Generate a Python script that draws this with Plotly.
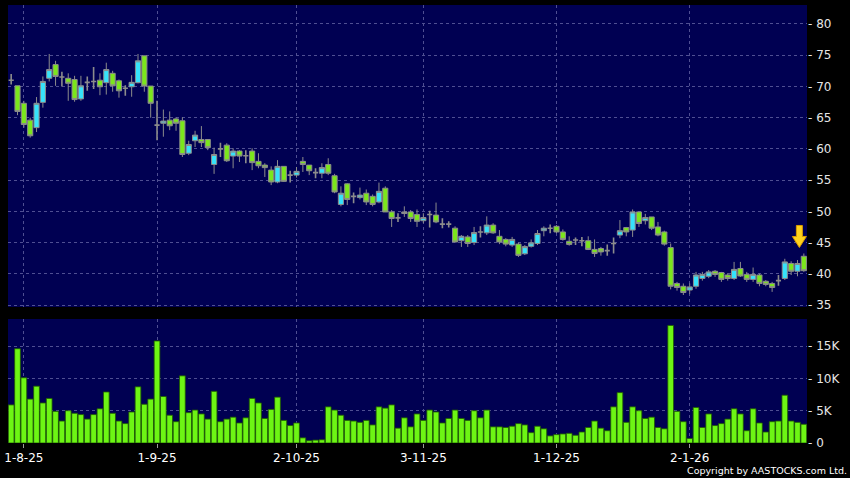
import plotly.graph_objects as go

# ---------------- data ----------------
opens = [71.0, 70.1, 67.3, 64.6, 63.4, 67.45, 71.3, 73.5, 71.5, 71.3,
         71.1, 68.0, 70.65, 70.8, 71.0, 70.6, 72.1, 70.9, 69.7, 69.95,
         70.6, 74.9, 70.06, 63.8, 64.1, 64.6, 64.8, 64.5, 59.3, 61.3,
         61.5, 61.5, 57.5, 60.0, 60.6, 58.85, 59.65, 58.9, 59.65, 58.0,
         57.4, 56.6, 54.7, 57.2, 55.8, 55.8, 58.0, 57.4, 56.2, 56.1,
         57.5, 55.7, 51.1, 54.4, 52.4, 52.2, 52.9, 52.4, 51.5, 53.7,
         49.9, 48.95, 49.65, 49.9, 49.5, 48.5, 49.5, 49.4, 47.95, 47.95,
         47.3, 45.3, 45.9, 45.0, 46.7, 46.55, 47.8, 46.0, 45.5, 44.6,
         44.75, 43.2, 44.4, 44.85, 46.9, 47.3, 47.6, 46.7, 45.2, 45.4,
         45.3, 45.3, 43.9, 44.05, 43.7, 44.85, 46.2, 47.4, 47.0, 49.9,
         48.5, 49.1, 47.5, 46.7, 44.2, 38.45, 38.0, 37.4, 38.0, 39.25,
         39.6, 40.4, 40.2, 39.8, 39.25, 40.85, 39.9, 39.1, 39.8, 38.8,
         38.45, 38.9, 39.25, 41.65, 40.4, 42.8]
highs = [72.0, 70.1, 67.7, 65.0, 68.3, 71.6, 75.2, 74.1, 72.35, 72.1,
         71.7, 71.7, 71.6, 73.1, 72.1, 73.8, 72.5, 71.1, 70.2, 71.8,
         75.2, 74.9, 70.06, 67.7, 66.3, 66.0, 65.05, 65.05, 61.3, 62.9,
         63.65, 61.5, 60.2, 61.0, 60.9, 60.1, 59.8, 59.8, 60.1, 59.3,
         57.7, 57.2, 58.2, 57.2, 56.5, 57.1, 58.7, 57.4, 56.9, 57.7,
         58.5, 56.0, 54.0, 54.5, 53.0, 53.8, 53.5, 52.7, 54.6, 54.0,
         50.2, 49.7, 50.8, 50.2, 50.3, 49.7, 50.1, 51.4, 48.9, 48.4,
         47.6, 46.2, 46.2, 47.5, 47.6, 49.2, 48.1, 47.0, 45.7, 45.9,
         45.0, 44.6, 45.5, 47.0, 47.6, 47.9, 47.8, 47.1, 46.0, 45.8,
         45.9, 46.0, 45.5, 44.3, 44.7, 45.8, 48.6, 47.5, 50.3, 49.9,
         49.6, 49.1, 48.3, 46.9, 44.85, 38.7, 38.45, 38.45, 40.3, 40.3,
         40.6, 40.6, 40.3, 40.1, 41.9, 41.9, 40.3, 41.0, 40.0, 39.0,
         38.7, 39.8, 42.4, 42.0, 42.2, 43.25]
lows = [70.3, 65.4, 63.4, 61.8, 62.7, 66.6, 70.8, 70.1, 70.0, 67.7,
        67.55, 67.7, 69.3, 69.6, 68.6, 68.7, 69.15, 68.2, 68.5, 68.35,
        70.5, 69.15, 65.0, 61.4, 61.95, 63.0, 62.9, 58.7, 59.0, 60.3,
        60.3, 59.8, 56.0, 58.7, 57.9, 56.9, 57.9, 57.7, 56.6, 56.9,
        55.5, 54.2, 54.5, 54.7, 54.6, 55.4, 56.3, 55.8, 55.3, 55.3,
        55.8, 52.9, 50.8, 51.0, 51.3, 51.9, 51.0, 50.8, 51.3, 49.9,
        47.5, 48.3, 49.1, 48.3, 47.5, 48.1, 47.4, 48.1, 47.3, 47.4,
        45.0, 44.3, 44.3, 44.6, 45.8, 46.2, 46.4, 44.75, 44.4, 44.3,
        42.7, 43.0, 44.2, 44.6, 46.0, 46.5, 46.5, 45.3, 44.5, 44.6,
        44.4, 43.8, 42.7, 42.9, 42.9, 43.25, 45.7, 46.0, 45.9, 47.5,
        47.9, 47.0, 46.0, 44.5, 37.5, 37.3, 36.6, 36.8, 37.6, 38.9,
        39.3, 39.5, 38.7, 38.9, 39.0, 39.5, 38.7, 38.7, 38.0, 38.0,
        37.1, 38.1, 39.0, 39.8, 39.6, 40.3]
closes = [71.0, 66.0, 63.9, 62.1, 67.3, 70.8, 72.7, 71.6, 71.5, 70.5,
          67.9, 70.1, 70.65, 70.8, 69.95, 72.7, 70.1, 69.3, 69.7, 70.65,
          74.1, 70.06, 67.3, 63.8, 64.45, 63.7, 64.1, 59.1, 60.7, 62.2,
          61.0, 60.2, 59.1, 60.0, 58.1, 59.65, 58.85, 58.9, 57.8, 57.3,
          57.0, 54.7, 57.2, 54.8, 55.8, 56.4, 57.5, 56.5, 56.2, 57.0,
          56.1, 53.1, 52.9, 51.9, 52.4, 52.6, 51.5, 51.1, 53.2, 49.9,
          48.85, 48.95, 49.9, 48.85, 48.4, 49.0, 49.5, 48.3, 47.95, 47.95,
          45.1, 46.0, 44.85, 46.6, 46.7, 47.8, 46.55, 45.1, 44.75, 45.5,
          42.95, 44.35, 44.95, 46.45, 47.3, 47.3, 46.7, 45.5, 44.7, 45.4,
          45.3, 43.9, 43.25, 43.5, 43.7, 44.85, 46.9, 46.7, 49.9, 48.05,
          49.0, 47.3, 46.2, 44.75, 38.0, 37.8, 37.0, 37.9, 39.8, 39.9,
          40.3, 39.9, 39.1, 39.25, 40.7, 39.65, 39.1, 39.9, 38.45, 38.3,
          37.8, 38.9, 41.9, 40.4, 41.65, 40.5]
volume_k = [5.9, 14.6, 10.1, 6.8, 8.8, 6.2, 6.9, 4.9, 3.4, 5.0,
            4.6, 4.4, 3.7, 4.4, 5.3, 7.9, 4.6, 3.4, 3.0, 4.8,
            8.7, 6.0, 6.8, 15.8, 7.2, 4.3, 3.3, 10.4, 4.7, 5.1,
            4.5, 3.7, 8.0, 3.3, 3.7, 4.0, 3.1, 3.9, 6.9, 6.2,
            3.8, 5.2, 7.1, 3.5, 2.7, 3.1, 0.8, 0.35, 0.45, 0.5,
            5.6, 5.1, 4.3, 3.5, 3.4, 3.2, 3.5, 2.8, 5.6, 5.4,
            5.9, 2.3, 3.9, 2.5, 4.5, 3.5, 5.1, 4.8, 3.1, 3.8,
            5.1, 3.8, 3.5, 5.0, 3.9, 5.1, 2.5, 2.5, 2.4, 2.6,
            3.0, 2.8, 1.6, 2.6, 2.2, 1.1, 1.3, 1.4, 1.5, 1.2,
            1.7, 2.4, 3.4, 2.3, 1.9, 5.6, 7.8, 3.2, 5.6, 5.0,
            3.8, 4.0, 2.4, 2.2, 18.2, 4.9, 3.3, 0.7, 5.5, 2.4,
            4.5, 2.7, 3.0, 3.7, 5.3, 4.5, 1.9, 5.3, 3.1, 1.7,
            3.3, 3.4, 7.4, 3.4, 3.2, 2.9]
tick_index = [2, 23, 45, 65, 86, 107]
tick_labels = ["1-8-25", "1-9-25", "2-10-25", "3-11-25", "1-12-25", "2-1-26"]
price_ticks = [35, 40, 45, 50, 55, 60, 65, 70, 75, 80]
vol_ticks = [0, 5, 10, 15]
vol_tick_labels = ["0", "5K", "10K", "15K"]

# ---------------- styling ----------------
NAVY = "#000052"
GRID = "#4f4f92"
DASH = "3px,3px"
CYAN = "#36e2fb"
GREEN = "#7be61c"
VOLGREEN = "#6df514"
EDGE = "#8c8c8c"
TXT = "#e6e6e6"
FONT = "DejaVu Sans"

idx = list(range(len(opens)))
groups = {"up": [], "down": [], "doji": []}
for i in idx:
    if closes[i] > opens[i]:
        groups["up"].append(i)
    elif closes[i] < opens[i]:
        groups["down"].append(i)
    else:
        groups["doji"].append(i)

fig = go.Figure()
style = {"up": (CYAN, 1), "down": (GREEN, 1), "doji": (EDGE, 1.6)}
for name, members in groups.items():
    fill, lw = style[name]
    fig.add_trace(go.Candlestick(
        x=members,
        open=[opens[i] for i in members],
        high=[highs[i] for i in members],
        low=[lows[i] for i in members],
        close=[closes[i] for i in members],
        increasing=dict(fillcolor=fill, line=dict(color=EDGE, width=lw)),
        decreasing=dict(fillcolor=fill, line=dict(color=EDGE, width=lw)),
        whiskerwidth=0,
        showlegend=False, hoverinfo="skip",
        xaxis="x", yaxis="y",
    ))

fig.add_trace(go.Bar(
    x=idx, y=volume_k,
    marker=dict(color=VOLGREEN, line=dict(color="#1f5a00", width=0.8)),
    showlegend=False, hoverinfo="skip",
    xaxis="x2", yaxis="y2",
))

# yellow marker arrow above the last candle
last = idx[-1]
fig.add_shape(
    type="path", xref="x", yref="y",
    xsizemode="pixel", ysizemode="pixel",
    xanchor=last - 0.7, yanchor=highs[-1],
    path="M -3,28 L 3,28 L 3,17 L 7,17 L 0,6 L -7,17 L -3,17 Z",
    fillcolor="#ffd21c", line=dict(color="#d99a00", width=1),
)

fig.add_annotation(
    text="Copyright by AASTOCKS.com Ltd.",
    xref="paper", yref="paper", x=1.0525, y=-0.062,
    xanchor="right", yanchor="middle", showarrow=False,
    font=dict(family=FONT, size=9.5, color="#ffffff"),
)

xrange = [-0.5, 125.5]
common_x = dict(range=xrange, tickvals=tick_index, showgrid=True,
                gridcolor=GRID, griddash=DASH, gridwidth=1,
                zeroline=False, showline=False, fixedrange=True)
fig.update_layout(
    width=850, height=478,
    margin=dict(l=4, r=43, t=5, b=35),
    paper_bgcolor="#000000", plot_bgcolor=NAVY,
    boxgap=0.1, boxgroupgap=0.1, bargap=0.1,
    font=dict(family=FONT, color=TXT, size=12),
    xaxis=dict(anchor="y", domain=[0, 1], showticklabels=False, ticks="",
               rangeslider=dict(visible=False), **common_x),
    xaxis2=dict(anchor="y2", domain=[0, 1], ticktext=tick_labels,
                ticks="outside", ticklen=4, tickcolor="#9a9a9a",
                tickfont=dict(family=FONT, size=12, color="#ffffff"),
                **common_x),
    yaxis=dict(domain=[0.3105, 1], side="right", range=[34.68, 83.04],
               tickvals=price_ticks, ticktext=["- " + str(v) for v in price_ticks],
               ticks="", showgrid=True, gridcolor=GRID, griddash=DASH,
               zeroline=False, showline=False, automargin=False,
               tickfont=dict(family=FONT, size=12, color=TXT)),
    yaxis2=dict(domain=[0, 0.2831], side="right", range=[0, 19.2],
                tickvals=vol_ticks, ticktext=["- " + t for t in vol_tick_labels],
                ticks="", showgrid=True, gridcolor=GRID, griddash=DASH,
                zeroline=False, showline=False, automargin=False,
                tickfont=dict(family=FONT, size=12, color=TXT)),
)

fig.write_html(
    "out.html",
    config={"displayModeBar": False},
    post_script="document.body.style.margin='0';document.body.style.background='#000';",
)
